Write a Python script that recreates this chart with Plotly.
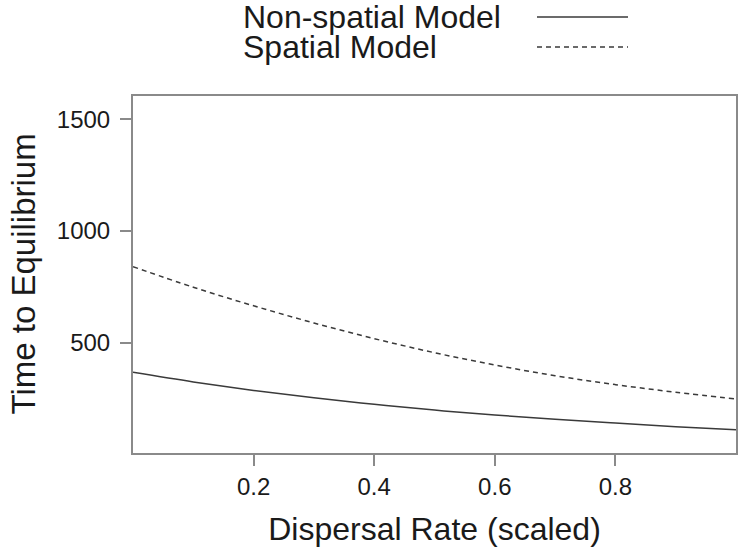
import plotly.graph_objects as go

# Data
dispersal_rate = [0.0, 0.1, 0.2, 0.3, 0.4, 0.5, 0.6, 0.7, 0.8, 0.9, 1.0]
non_spatial = [367, 324, 286, 253, 224, 198, 176, 157, 140, 124, 110]
spatial = [840, 748, 665, 588, 518, 455, 400, 352, 312, 278, 248]

series_names = ["Non-spatial Model", "Spatial Model"]
x_ticks = [0.2, 0.4, 0.6, 0.8]
y_ticks = [500, 1000, 1500]
x_title = "Dispersal Rate (scaled)"
y_title = "Time to Equilibrium"

FONT = "Liberation Sans, Arial, Helvetica, sans-serif"
LINE_COLOR = "#3a3a3a"
AXIS_COLOR = "#8a8a8a"
TEXT_COLOR = "#1a1a1a"

W, H = 740, 547
M_L, M_R, M_T, M_B = 133, 4, 96, 94

fig = go.Figure()
fig.add_trace(go.Scatter(
    x=dispersal_rate, y=non_spatial, mode="lines", name=series_names[0],
    line=dict(color=LINE_COLOR, width=1.5, shape="spline"),
    showlegend=False,
))
fig.add_trace(go.Scatter(
    x=dispersal_rate, y=spatial, mode="lines", name=series_names[1],
    line=dict(color=LINE_COLOR, width=1.5, dash="5px,4px", shape="spline"),
    showlegend=False,
))

fig.update_layout(
    width=W, height=H,
    margin=dict(l=M_L, r=M_R, t=M_T, b=M_B),
    paper_bgcolor="white", plot_bgcolor="white",
    font=dict(family=FONT, color=TEXT_COLOR),
    xaxis=dict(
        range=[0, 1], tickvals=x_ticks, ticktext=[f"{v:.1f}" for v in x_ticks],
        showline=True, mirror=True, linecolor=AXIS_COLOR, linewidth=2,
        ticks="outside", ticklen=11, tickwidth=1.5, tickcolor=AXIS_COLOR,
        showgrid=False, zeroline=False, automargin=False,
        tickfont=dict(size=24, family=FONT, color=TEXT_COLOR),
        title=dict(text=x_title, standoff=24,
                   font=dict(size=32, family=FONT, color=TEXT_COLOR)),
    ),
    yaxis=dict(
        range=[6, 1604], tickvals=y_ticks,
        showline=True, mirror=True, linecolor=AXIS_COLOR, linewidth=2,
        ticks="outside", ticklen=11, tickwidth=1.5, tickcolor=AXIS_COLOR,
        showgrid=False, zeroline=False, automargin=False,
        ticklabelstandoff=5,
        tickfont=dict(size=24, family=FONT, color=TEXT_COLOR),
    ),
)

plot_w = W - M_L - M_R
plot_h = H - M_T - M_B
def px_to_paper_x(px):
    return (px - M_L) / plot_w
def px_to_paper_y(py):
    return (H - py - M_B) / plot_h

# Y axis title as a rotated annotation for precise placement
fig.add_annotation(
    x=px_to_paper_x(23), y=0.5, xref="paper", yref="paper",
    text=y_title, showarrow=False, textangle=-90,
    xanchor="center", yanchor="middle",
    font=dict(family=FONT, size=33, color=TEXT_COLOR),
)

# Legend drawn in R style: text on the left, line sample on the right
legend_dash = ["solid", "5px,4px"]
legend_text_px = [17, 47]
for name, py, dash in zip(series_names, legend_text_px, legend_dash):
    fig.add_annotation(
        x=px_to_paper_x(241), y=px_to_paper_y(py), xref="paper", yref="paper",
        text=name, showarrow=False, xanchor="left", yanchor="middle",
        font=dict(family=FONT, size=32, color=TEXT_COLOR),
    )
    fig.add_shape(
        type="line", xref="paper", yref="paper",
        x0=px_to_paper_x(537), x1=px_to_paper_x(628),
        y0=px_to_paper_y(py), y1=px_to_paper_y(py),
        line=dict(color=LINE_COLOR, width=1.5, dash=dash),
    )

fig.write_html(
    "out.html",
    config={"displayModeBar": False},
    post_script="document.body.style.margin='0px';document.body.style.overflow='hidden';",
)
